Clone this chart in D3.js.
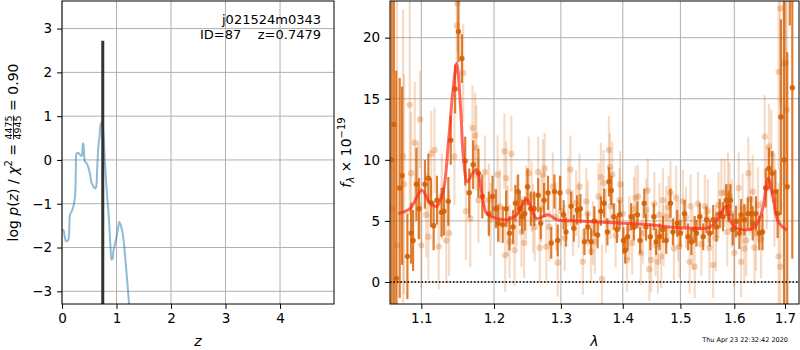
<!DOCTYPE html>
<html>
<head>
<meta charset="utf-8">
<script src="https://cdn.jsdelivr.net/npm/d3@7"></script>
<style>
  body { margin: 0; background: #fff; }
  text { font-family: "DejaVu Sans", sans-serif; white-space: pre; }
</style>
</head>
<body>
<svg id="fig" width="800" height="350"></svg>
<script>
// ---- p(z) panel ----
var zGrid = [0.005, 0.024, 0.05, 0.073, 0.095, 0.116, 0.147, 0.175, 0.208, 0.239, 0.255, 0.269, 0.300, 0.33, 0.361, 0.380, 0.391, 0.41, 0.422, 0.45, 0.483, 0.51, 0.544, 0.575, 0.606, 0.625, 0.645, 0.667, 0.69, 0.716, 0.735, 0.758, 0.79, 0.820, 0.862, 0.89, 0.911, 0.93, 0.942, 0.975, 1.003, 1.03, 1.052, 1.08, 1.113, 1.14, 1.174, 1.205, 1.229, 1.26];
var logPz = [-1.62, -1.60, -1.75, -1.86, -1.84, -1.83, -1.25, -1.18, -1.07, -0.84, -0.2, 0.15, 0.16, 0.12, 0.09, 0.35, 0.38, 0.05, -0.04, -0.07, -0.17, -0.3, -0.53, -0.6, -0.65, -0.62, -0.2, 0.30, 0.55, 0.85, 0.82, 0.62, -0.1, -0.68, -1.37, -2.0, -2.28, -2.25, -2.09, -1.9, -1.75, -1.55, -1.41, -1.5, -1.67, -1.95, -2.44, -2.9, -3.27, -3.8];
var zBest = 0.7479;
var zBestTop = 2.72;
var zTicks = [0, 1, 2, 3, 4];
var pzTicks = [-3, -2, -1, 0, 1, 2, 3];

// ---- spectrum panel: model ----
var modelWave = [1.070, 1.0852, 1.1005, 1.1116, 1.1205, 1.1293, 1.1362, 1.1430, 1.1476, 1.1531, 1.1567, 1.1622, 1.1684, 1.1754, 1.1825, 1.1896, 1.2038, 1.2182, 1.2329, 1.2477, 1.2552, 1.2628, 1.2805, 1.2937, 1.3302, 1.3843, 1.4407, 1.4992, 1.5539, 1.5694, 1.5839, 1.5916, 1.6041, 1.6366, 1.6529, 1.6663, 1.6751, 1.6864, 1.7032];
var modelFlux = [5.6, 6.0, 7.5, 6.45, 6.2, 7.5, 11.4, 16.0, 17.9, 14.1, 10.3, 8.2, 8.8, 9.2, 7.3, 5.6, 5.2, 5.1, 5.5, 6.8, 6.0, 5.2, 5.5, 5.1, 5.0, 4.85, 4.7, 4.45, 4.5, 5.2, 6.2, 5.1, 4.4, 4.4, 5.6, 8.5, 7.1, 4.95, 4.25];

// ---- spectrum panel: dark points ----
var darkWave = [1.0615, 1.0645, 1.0675, 1.0719, 1.0749, 1.0818, 1.0866, 1.0892, 1.0935, 1.0970, 1.1047, 1.1093, 1.1128, 1.1163, 1.1208, 1.1269, 1.1301, 1.1361, 1.1394, 1.1454, 1.1500, 1.1547, 1.1593, 1.1649, 1.1704, 1.1778, 1.1833, 1.1926,
  1.1978, 1.2026, 1.2060, 1.2126, 1.2176, 1.2225, 1.2276, 1.2311, 1.2351, 1.2375, 1.2411, 1.2450, 1.2491, 1.2540, 1.2591, 1.2651, 1.2690, 1.2741, 1.2801, 1.2851, 1.2900, 1.2951, 1.2986,
  1.3043, 1.3080, 1.3160, 1.3203, 1.3255, 1.3308, 1.3372, 1.3426, 1.3478, 1.3531, 1.3585, 1.3638, 1.3691, 1.3745, 1.3770, 1.3809, 1.3850, 1.3904, 1.3946,
  1.4011, 1.4041, 1.4081, 1.4141, 1.4187, 1.4247, 1.4293, 1.4364, 1.4394, 1.4470, 1.4530, 1.4571, 1.4629, 1.4689, 1.4747, 1.4823, 1.4866, 1.4942,
  1.5000, 1.5074, 1.5137, 1.5198, 1.5259, 1.5291, 1.5352, 1.5415, 1.5476, 1.5537, 1.5600, 1.5661, 1.5722, 1.5785, 1.5846, 1.5889, 1.5926, 1.5970,
  1.6033, 1.6097, 1.6130, 1.6193, 1.6259, 1.6323, 1.6356, 1.6420, 1.6484, 1.6549, 1.6613, 1.6677, 1.6743, 1.6806, 1.6851,
  1.6917, 1.6981, 1.7046, 1.7098, 1.7150];
var darkFlux = [10.0, 12.9, 0.3, 7.7, 8.7, 2.1, 4.0, 3.4, 8.0, 6.0, 8.0, 8.5, 6.5, 4.6, 6.7, 5.7, 5.8, 6.6, 11.6, 15.8, 20.5, 18.3, 9.9, 7.3, 9.6, 8.9, 7.0, 5.6,
  7.0, 6.0, 4.8, 4.7, 6.0, 4.0, 4.5, 6.45, 7.4, 6.0, 5.35, 5.6, 7.8, 6.0, 6.0, 7.1, 4.8, 6.7, 7.3, 3.2, 7.4, 3.4, 7.3,
  5.5, 4.1, 6.2, 4.4, 5.9, 6.0, 3.3, 4.5, 3.3, 5.0, 3.85, 5.8, 6.45, 4.1, 8.2, 7.5, 5.35, 4.3, 5.5,
  3.4, 2.6, 3.7, 5.35, 4.5, 5.5, 3.4, 6.45, 4.5, 3.7, 5.35, 3.3, 3.7, 4.3, 3.4, 6.45, 4.1, 4.8,
  4.0, 5.6, 3.7, 3.3, 4.3, 4.0, 5.35, 3.7, 5.1, 4.0, 5.1, 4.5, 5.6, 5.35, 6.7, 6.2, 6.7, 4.3,
  4.95, 4.0, 5.5, 5.1, 5.6, 5.6, 4.8, 5.6, 4.0, 4.1, 7.7, 9.3, 8.9, 7.4, 5.6,
  13.5, 10.0, 7.8, 33.0, 15.9];
var darkErr = [25, 16, 17, 9, 7.3, 3.5, 2.5, 2.5, 3.0, 2.5, 2.0, 2.0, 2.0, 2.0, 2.0, 2.0, 2.0, 2.0, 2.0, 2.0, 2.5, 2.0, 2.0, 2.0, 2.0, 2.0, 1.8, 1.8,
  1.7, 1.6, 1.5, 1.5, 1.5, 1.4, 1.4, 1.5, 1.4, 1.4, 1.4, 1.4, 1.5, 1.4, 1.4, 1.4, 1.3, 1.4, 1.4, 1.3, 1.4, 1.3, 1.4,
  1.2, 1.2, 1.2, 1.1, 1.2, 1.2, 1.1, 1.2, 1.1, 1.2, 1.1, 1.2, 1.2, 1.1, 1.2, 1.2, 1.1, 1.1, 1.2,
  1.1, 1.1, 1.1, 1.1, 1.1, 1.1, 1.1, 1.2, 1.1, 1.1, 1.1, 1.1, 1.1, 1.1, 1.1, 1.2, 1.1, 1.1,
  1.1, 1.1, 1.1, 1.1, 1.1, 1.1, 1.1, 1.1, 1.1, 1.1, 1.2, 1.2, 1.2, 1.2, 1.3, 1.3, 1.3, 1.3,
  1.3, 1.3, 1.3, 1.3, 1.3, 1.4, 1.4, 1.4, 1.4, 1.5, 1.6, 1.7, 1.8, 1.8, 2.0,
  8, 14, 11, 12, 14];

// ---- spectrum panel: light points ----
var lightWave = [1.0619, 1.0684, 1.0762, 1.0775, 1.0849, 1.0866, 1.0914, 1.0957, 1.0983, 1.1000, 1.1065, 1.1093, 1.1131, 1.1176, 1.1232, 1.1273, 1.1333, 1.1371, 1.1444, 1.1478, 1.1486, 1.1565, 1.1603, 1.1663, 1.1695, 1.1732, 1.1750, 1.1778, 1.1871, 1.1926, 1.1950,
  1.2051, 1.2085, 1.2150, 1.2161, 1.2176, 1.2200, 1.2225, 1.2251, 1.2300, 1.2330, 1.2401, 1.2441, 1.2470, 1.2510, 1.2551, 1.2575, 1.2600, 1.2651, 1.2675, 1.2700, 1.2726, 1.2750, 1.2776, 1.2820, 1.2876, 1.2926, 1.2951, 1.3000,
  1.3060, 1.3116, 1.3148, 1.3190, 1.3239, 1.3280, 1.3292, 1.3346, 1.3400, 1.3426, 1.3478, 1.3510, 1.3540, 1.3600, 1.3638, 1.3655, 1.3681, 1.3720, 1.3770, 1.3786, 1.3797, 1.3824, 1.3880, 1.3946, 1.3957, 1.4000,
  1.4071, 1.4110, 1.4159, 1.4190, 1.4217, 1.4258, 1.4306, 1.4340, 1.4400, 1.4424, 1.4452, 1.4482, 1.4540, 1.4560, 1.4601, 1.4629, 1.4659, 1.4689, 1.4700, 1.4747, 1.4790, 1.4823, 1.4883, 1.4924, 1.4960, 1.4982,
  1.5044, 1.5100, 1.5167, 1.5185, 1.5220, 1.5259, 1.5320, 1.5380, 1.5444, 1.5500, 1.5530, 1.5600, 1.5650, 1.5700, 1.5753, 1.5815, 1.5865, 1.5878, 1.5907, 1.5950, 1.6000,
  1.6085, 1.6130, 1.6160, 1.6193, 1.6230, 1.6271, 1.6300, 1.6356, 1.6390, 1.6420, 1.6460, 1.6520, 1.6594, 1.6633, 1.6677, 1.6724, 1.6787, 1.6870, 1.6872, 1.6904, 1.6906, 1.6969, 1.7021, 1.7035];
var lightFlux = [6.0, 3.0, 10.3, 8.0, 14.5, 8.9, 11.4, 7.5, 13.3, 3.0, 5.5, 3.7, 10.5, 10.8, 2.9, 7.0, 3.4, 4.0, 10.3, 21.0, 22.8, 17.1, 5.8, 5.2, 12.6, 12.0, 11.0, 6.7, 9.0, 6.7, 5.1,
  8.8, 6.2, 10.7, 2.2, 8.5, 5.0, 3.3, 10.5, 2.6, 5.8, 4.1, 3.2, 6.5, 8.9, 7.0, 5.2, 4.5, 9.0, 2.8, 6.0, 8.8, 9.3, 2.9, 4.5, 7.8, 5.35, 1.6, 5.8,
  3.6, 7.4, 9.2, 4.8, 6.45, 5.5, 7.8, 1.65, 6.6, 5.6, 2.5, 4.0, 3.3, 7.0, 8.6, 0.25, 8.1, 5.0, 10.8, 9.4, 6.2, 8.8, 3.8, 6.7, 8.0, 5.6,
  1.8, 4.4, 3.2, 6.0, 6.9, 7.0, 2.35, 4.0, 5.9, 7.5, 1.05, 1.8, 6.4, 3.0, 1.65, 5.5, 2.1, 6.7, 3.8, 5.35, 6.1, 7.3, 2.75, 6.9, 4.2, 2.9,
  6.6, 5.3, 1.65, 6.2, 3.5, 1.25, 6.4, 3.1, 6.2, 5.8, 2.8, 1.4, 3.6, 6.3, 7.3, 7.3, 4.1, 7.8, 7.0, 5.6, 2.4,
  7.7, 1.65, 6.0, 2.75, 3.4, 8.9, 6.8, 7.4, 2.8, 4.0, 6.3, 3.5, 11.9, 7.7, 11.1, 10.5, 6.7, 2.1, 17.2, 1.25, 22.4, 17.9, 17.9, 14.1];
var lightErr = [25, 20, 12, 9, 9, 5, 5, 4, 4, 3.5, 3.5, 3.5, 3.5, 3.5, 3.5, 3.5, 3.5, 3.5, 4, 4, 4, 4, 4, 4, 3.5, 3.5, 3.5, 3.5, 3, 3, 3,
  3.2, 3.0, 3.1, 3.0, 3.0, 2.9, 3.0, 3.1, 2.9, 2.9, 2.9, 2.9, 3.0, 3.0, 2.9, 2.8, 2.8, 2.9, 2.8, 2.8, 2.9, 2.9, 2.8, 2.8, 2.8, 2.8, 2.8, 2.8,
  2.7, 2.8, 2.8, 2.7, 2.7, 2.7, 2.7, 2.7, 2.7, 2.7, 2.6, 2.6, 2.6, 2.7, 2.8, 2.8, 2.7, 2.6, 2.8, 2.8, 2.7, 2.7, 2.6, 2.6, 2.7, 2.6,
  2.6, 2.6, 2.6, 2.6, 2.6, 2.6, 2.6, 2.5, 2.6, 2.6, 2.6, 2.6, 2.6, 2.5, 2.6, 2.6, 2.6, 2.6, 2.5, 2.5, 2.6, 2.6, 2.6, 2.6, 2.5, 2.6,
  2.6, 2.5, 2.6, 2.6, 2.5, 2.6, 2.6, 2.6, 2.6, 2.6, 2.6, 2.7, 2.7, 2.7, 2.8, 2.8, 2.8, 2.8, 2.8, 2.8, 2.8,
  2.9, 2.9, 2.9, 2.9, 2.9, 3.0, 3.0, 3.0, 3.0, 3.1, 3.1, 3.2, 3.4, 3.4, 3.5, 3.6, 3.8, 6, 8, 8, 8, 10, 10, 10];
var waveTicks = [1.1, 1.2, 1.3, 1.4, 1.5, 1.6, 1.7];
var fluxTicks = [0, 5, 10, 15, 20];

var svg = d3.select("#fig");
var orange = "#d65f00";
var gridColor = "#b0b0b0";

// panel boxes
var L = { x0: 62, x1: 334, y0: 1, y1: 304 };
var R = { x0: 390, x1: 799, y0: 1, y1: 304 };

var xz = d3.scaleLinear().domain([0, 4.99]).range([L.x0, L.x1]);
var yz = d3.scaleLinear().domain([-3.29, 3.63]).range([L.y1, L.y0]);
var xw = d3.scaleLog().domain([1.0595, 1.7288]).range([R.x0, R.x1]);
var yf = d3.scaleLinear().domain([-1.8, 23.0]).range([R.y1, R.y0]);

function clip(id, b) {
  svg.append("clipPath").attr("id", id)
    .append("rect").attr("x", b.x0).attr("y", b.y0)
    .attr("width", b.x1 - b.x0).attr("height", b.y1 - b.y0);
}
clip("clipL", L);
clip("clipR", R);

// grid + axes for one panel
function drawAxes(b, x, y, xt, yt, xfmt, yfmt) {
  var g = svg.append("g");
  g.selectAll(".gx").data(xt).enter().append("line")
    .attr("x1", d => x(d)).attr("x2", d => x(d))
    .attr("y1", b.y0).attr("y2", b.y1)
    .attr("stroke", gridColor).attr("stroke-width", 1);
  g.selectAll(".gy").data(yt).enter().append("line")
    .attr("x1", b.x0).attr("x2", b.x1)
    .attr("y1", d => y(d)).attr("y2", d => y(d))
    .attr("stroke", gridColor).attr("stroke-width", 1);

  var ax = svg.append("g").attr("transform", "translate(0," + b.y1 + ")")
    .call(d3.axisBottom(x).tickValues(xt).tickFormat(xfmt).tickSize(4.9).tickPadding(4.9));
  var ay = svg.append("g").attr("transform", "translate(" + b.x0 + ",0)")
    .call(d3.axisLeft(y).tickValues(yt).tickFormat(yfmt).tickSize(4.9).tickPadding(4.9));
  [ax, ay].forEach(function(a) {
    a.select(".domain").remove();
    a.selectAll("text").attr("font-size", 13.5).attr("fill", "#000")
      .attr("font-family", '"DejaVu Sans", sans-serif');
    a.selectAll("line").attr("stroke", "#000");
  });
  return g;
}

function frame(b) {
  svg.append("rect").attr("x", b.x0).attr("y", b.y0)
    .attr("width", b.x1 - b.x0).attr("height", b.y1 - b.y0)
    .attr("fill", "none").attr("stroke", "#000").attr("stroke-width", 1);
}

// ---------- left panel ----------
drawAxes(L, xz, yz, zTicks, pzTicks, d3.format("d"), d3.format("d"));

var pz = zGrid.map((z, i) => [z, logPz[i]]);
var gl = svg.append("g").attr("clip-path", "url(#clipL)");
gl.append("path")
  .datum(pz)
  .attr("d", d3.line().x(d => xz(d[0])).y(d => yz(d[1])).curve(d3.curveCatmullRom))
  .attr("fill", "none").attr("stroke", "#1f77b4").attr("stroke-opacity", 0.5)
  .attr("stroke-width", 2);
gl.append("line")
  .attr("x1", xz(zBest)).attr("x2", xz(zBest))
  .attr("y1", yz(-3.29)).attr("y2", yz(zBestTop))
  .attr("stroke", "#333").attr("stroke-width", 3);
frame(L);

svg.append("text").attr("x", 321).attr("y", 24).attr("text-anchor", "end")
  .attr("font-size", 13).text("j021524m0343");
svg.append("text").attr("x", 200).attr("y", 39)
  .attr("font-size", 13).text("ID=87");
svg.append("text").attr("x", 321).attr("y", 39).attr("text-anchor", "end")
  .attr("font-size", 13).text("z=0.7479");

svg.append("text").attr("x", 198).attr("y", 346).attr("text-anchor", "middle")
  .attr("font-size", 14).attr("font-style", "italic").text("z");

// left y label with stacked fraction
var yl = svg.append("g").attr("transform", "translate(18,152.5) rotate(-90)");
var t1 = yl.append("text").attr("font-size", 14);
t1.append("tspan").text("log ");
t1.append("tspan").attr("font-style", "italic").text("p");
t1.append("tspan").text("(");
t1.append("tspan").attr("font-style", "italic").text("z");
t1.append("tspan").text(") / ");
t1.append("tspan").attr("font-style", "italic").text("χ");
t1.append("tspan").attr("font-size", 10).attr("dy", -6).text("2");
t1.append("tspan").attr("dy", 6).text(" = ");
var w1 = t1.node().getComputedTextLength();
var num = yl.append("text").attr("font-size", 9.5).attr("x", w1).attr("y", -6.5).text("4475");
var den = yl.append("text").attr("font-size", 9.5).attr("x", w1).attr("y", 3).text("4945");
var wf = Math.max(num.node().getComputedTextLength(), den.node().getComputedTextLength());
yl.append("line").attr("x1", w1).attr("x2", w1 + wf).attr("y1", -4.5).attr("y2", -4.5)
  .attr("stroke", "#000").attr("stroke-width", 0.8);
var t3 = yl.append("text").attr("font-size", 14).attr("x", w1 + wf).text(" = 0.90");
var wTot = w1 + wf + t3.node().getComputedTextLength();
yl.selectAll("text, line").attr("transform", "translate(" + (-wTot / 2) + ",0)");

// ---------- right panel ----------
drawAxes(R, xw, yf, waveTicks, fluxTicks, d3.format(".1f"), d3.format("d"));

var light = lightWave.map((w, i) => ({ w: w, f: lightFlux[i], e: lightErr[i] }));
var dark = darkWave.map((w, i) => ({ w: w, f: darkFlux[i], e: darkErr[i] }));
var gr = svg.append("g").attr("clip-path", "url(#clipR)");

// light points with error bars
gr.selectAll(".le").data(light).enter().append("line")
  .attr("x1", d => xw(d.w)).attr("x2", d => xw(d.w))
  .attr("y1", d => yf(d.f - d.e)).attr("y2", d => yf(d.f + d.e))
  .attr("stroke", orange).attr("stroke-opacity", 0.22).attr("stroke-width", 2.2);
gr.selectAll(".lp").data(light).enter().append("circle")
  .attr("cx", d => xw(d.w)).attr("cy", d => yf(d.f)).attr("r", 3.2)
  .attr("fill", orange).attr("fill-opacity", 0.28);

// dark points with error bars
gr.selectAll(".de").data(dark).enter().append("line")
  .attr("x1", d => xw(d.w)).attr("x2", d => xw(d.w))
  .attr("y1", d => yf(d.f - d.e)).attr("y2", d => yf(d.f + d.e))
  .attr("stroke", orange).attr("stroke-opacity", 0.8).attr("stroke-width", 2.2);
gr.selectAll(".dp").data(dark).enter().append("circle")
  .attr("cx", d => xw(d.w)).attr("cy", d => yf(d.f)).attr("r", 2.7)
  .attr("fill", orange).attr("fill-opacity", 0.9);

// model
gr.append("path")
  .datum(modelWave.map((w, i) => [w, modelFlux[i]]))
  .attr("d", d3.line().x(d => xw(d[0])).y(d => yf(d[1])).curve(d3.curveCatmullRom))
  .attr("fill", "none").attr("stroke", "#ff2a1a").attr("stroke-opacity", 0.7)
  .attr("stroke-width", 3);

// zero line
gr.append("line")
  .attr("x1", R.x0).attr("x2", R.x1).attr("y1", yf(0)).attr("y2", yf(0))
  .attr("stroke", "#000").attr("stroke-width", 1.5).attr("stroke-dasharray", "1.5,2");
frame(R);

svg.append("text").attr("x", 594.5).attr("y", 346).attr("text-anchor", "middle")
  .attr("font-size", 14).attr("font-style", "italic").text("λ");

var yr = svg.append("g").attr("transform", "translate(351,152.5) rotate(-90)");
var tr = yr.append("text").attr("font-size", 14);
tr.append("tspan").attr("font-style", "italic").text("f");
tr.append("tspan").attr("font-style", "italic").attr("font-size", 10).attr("dy", 3).text("λ");
tr.append("tspan").attr("dy", -3).text(" × 10");
tr.append("tspan").attr("font-size", 10).attr("dy", -6).text("−19");
tr.attr("x", -tr.node().getComputedTextLength() / 2);

svg.append("text").attr("x", 788).attr("y", 342).attr("text-anchor", "end")
  .attr("font-size", 6.5).text("Thu Apr 23 22:32:42 2020");
</script>
</body>
</html>
